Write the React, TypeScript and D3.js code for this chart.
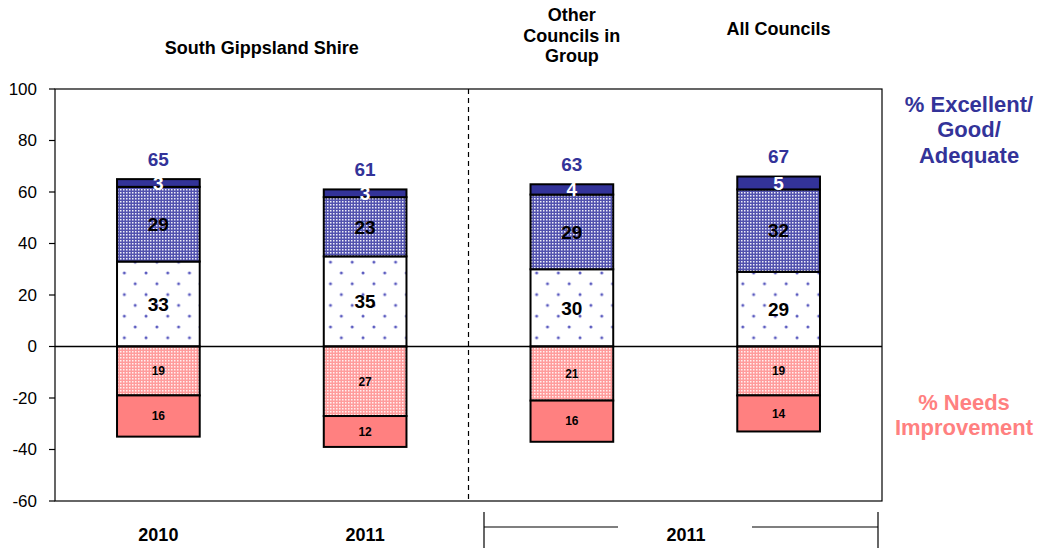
import React from "react";
import * as d3 from "d3";

const categories = ["SGS 2010", "SGS 2011", "Other Councils 2011", "All Councils 2011"];
const adequate = [33, 35, 30, 29];
const good = [29, 23, 29, 32];
const excellent = [3, 3, 4, 5];
const totals = [65, 61, 63, 67];
const needsSome = [19, 27, 21, 19];
const needsLots = [16, 12, 16, 14];
const yTicks = [100, 80, 60, 40, 20, 0, -20, -40, -60];
const yearLabels = ["2010", "2011"];
const groupYearLabel = "2011";

const W = 1037, H = 548;
const M = { left: 55, right: 882, top: 89, bottom: 501 };
const NAVY = "#333399";
const SALMON = "#FF8080";
const FONT = "Liberation Sans, Arial, sans-serif";

export default function App() {
  const x = d3.scaleBand<string>().domain(categories).range([M.left, M.right]).paddingInner(0.6).paddingOuter(0.3);
  const y = d3.scaleLinear().domain([-60, 100]).range([M.bottom, M.top]);
  const bw = x.bandwidth();
  const step = x.step();
  const cx = (i: number) => (x(categories[i]) as number) + bw / 2;

  type Seg = { y0: number; y1: number; fill: string; label: string; color: string; size: number };
  const stacks: Seg[][] = categories.map((_, i) => {
    const a = adequate[i], g = good[i], e = excellent[i];
    const n1 = needsSome[i], n2 = needsLots[i];
    return [
      { y0: 0, y1: a, fill: "url(#dots)", label: String(a), color: "#000", size: 19 },
      { y0: a, y1: a + g, fill: "url(#blueChk)", label: String(g), color: "#000", size: 19 },
      { y0: a + g, y1: a + g + e, fill: NAVY, label: String(e), color: "#fff", size: 19 },
      { y0: -n1, y1: 0, fill: "url(#pinkChk)", label: String(n1), color: "#000", size: 12 },
      { y0: -n1 - n2, y1: -n1, fill: SALMON, label: String(n2), color: "#000", size: 12 },
    ];
  });

  const dividerX = M.left + step * 2;

  return (
    <svg width={W} height={H} style={{ position: "absolute", left: 0, top: 0, background: "#fff" }} fontFamily={FONT}>
      <defs>
        <pattern id="dots" patternUnits="userSpaceOnUse" width={21.7} height={21.6} x={3} y={0}>
          <rect width={21.7} height={21.6} fill="#fff" />
          <circle cx={2} cy={3} r={1.5} fill="#5A5ABF" />
          <circle cx={12.85} cy={13.8} r={1.5} fill="#5A5ABF" />
        </pattern>
        <pattern id="blueChk" patternUnits="userSpaceOnUse" width={3} height={3}>
          <rect width={3} height={3} fill="#5252AE" />
          <rect width={1.5} height={1.5} fill="#EEEEF8" />
        </pattern>
        <pattern id="pinkChk" patternUnits="userSpaceOnUse" width={3} height={3}>
          <rect width={3} height={3} fill="#FF9C9C" />
          <rect width={1.5} height={1.5} fill="#FFF0F0" />
        </pattern>
      </defs>

      {/* plot frame */}
      <rect x={M.left} y={M.top} width={M.right - M.left} height={M.bottom - M.top} fill="none" stroke="#000" strokeWidth={1.2} />

      {/* y ticks */}
      {yTicks.map((t) => (
        <g key={t}>
          <line x1={M.left - 6} x2={M.left} y1={y(t)} y2={y(t)} stroke="#000" strokeWidth={1.2} />
          <text x={37} y={y(t)} dy="0.35em" textAnchor="end" fontSize={17} fill="#000">{t}</text>
        </g>
      ))}

      {/* divider */}
      <line x1={dividerX} x2={dividerX} y1={M.top} y2={M.bottom} stroke="#000" strokeWidth={1.2} strokeDasharray="5,4" />

      {/* bars */}
      {stacks.map((segs, i) => (
        <g key={i}>
          {segs.map((s, j) => (
            <rect key={j} x={x(categories[i])} y={y(s.y1)} width={bw} height={y(s.y0) - y(s.y1)} fill={s.fill} stroke="#000" strokeWidth={2} />
          ))}
          {segs.map((s, j) => (
            <text key={"t" + j} x={cx(i)} y={(y(s.y0) + y(s.y1)) / 2} dy="0.36em" textAnchor="middle" fontSize={s.size} fontWeight="bold" fill={s.color}>{s.label}</text>
          ))}
          <text x={cx(i)} y={y(adequate[i] + good[i] + excellent[i]) - 20} dy="0.36em" textAnchor="middle" fontSize={19} fontWeight="bold" fill={NAVY}>{totals[i]}</text>
        </g>
      ))}

      {/* zero line */}
      <line x1={M.left} x2={M.right} y1={y(0)} y2={y(0)} stroke="#000" strokeWidth={1.5} />

      {/* headers */}
      <text x={(cx(0) + cx(1)) / 2} y={48} dy="0.35em" textAnchor="middle" fontSize={18} fontWeight="bold">South Gippsland Shire</text>
      {["Other", "Councils in", "Group"].map((t, k) => (
        <text key={t} x={cx(2)} y={15 + k * 20.5} dy="0.35em" textAnchor="middle" fontSize={18} fontWeight="bold">{t}</text>
      ))}
      <text x={cx(3)} y={29} dy="0.35em" textAnchor="middle" fontSize={18} fontWeight="bold">All Councils</text>

      {/* x labels */}
      {yearLabels.map((t, i) => (
        <text key={i} x={cx(i)} y={535} dy="0.35em" textAnchor="middle" fontSize={18} fontWeight="bold">{t}</text>
      ))}
      <text x={686} y={535} dy="0.35em" textAnchor="middle" fontSize={18} fontWeight="bold">{groupYearLabel}</text>
      <line x1={484} x2={484} y1={512} y2={548} stroke="#000" strokeWidth={1.2} />
      <line x1={878} x2={878} y1={512} y2={548} stroke="#000" strokeWidth={1.2} />
      <line x1={484} x2={618} y1={527} y2={527} stroke="#000" strokeWidth={1.2} />
      <line x1={752} x2={878} y1={527} y2={527} stroke="#000" strokeWidth={1.2} />

      {/* right legend labels */}
      {["% Excellent/", "Good/", "Adequate"].map((t, k) => (
        <text key={t} x={969} y={104 + k * 25.5} dy="0.35em" textAnchor="middle" fontSize={22} fontWeight="bold" fill={NAVY}>{t}</text>
      ))}
      {["% Needs", "Improvement"].map((t, k) => (
        <text key={t} x={964} y={402 + k * 25} dy="0.35em" textAnchor="middle" fontSize={22} fontWeight="bold" fill={SALMON}>{t}</text>
      ))}
    </svg>
  );
}
